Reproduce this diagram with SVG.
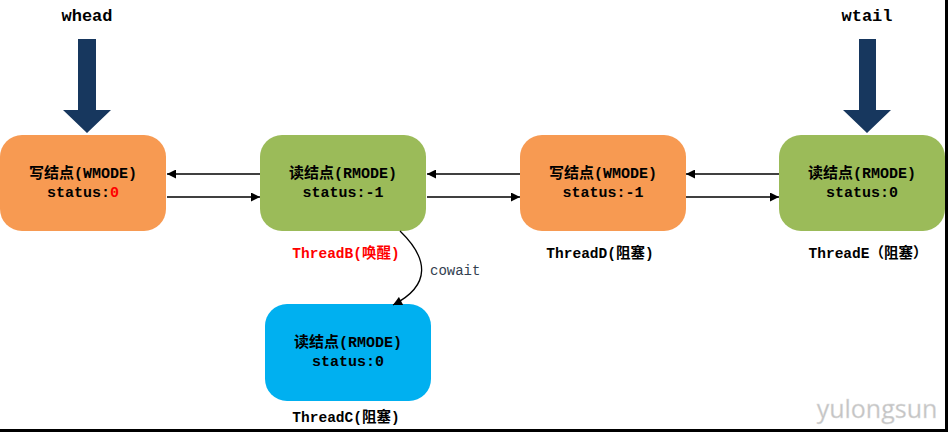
<svg xmlns="http://www.w3.org/2000/svg" width="948" height="432" viewBox="0 0 948 432">
<style>
.t{font-family:"Liberation Mono","Noto Sans CJK SC",monospace;font-weight:bold;font-size:15px;fill:#000;text-anchor:middle}
.l{font-size:14.5px}
.o{fill:#F79A52}
.g{fill:#9BBB59}
.b{fill:#00B0F0}
.c{stroke:#000;stroke-width:1.3;fill:none}
.big{fill:#17375E}
</style>
<defs>
<marker id="ah" viewBox="0 0 10 10" refX="10" refY="5" markerWidth="10" markerHeight="9" markerUnits="userSpaceOnUse" orient="auto">
<path d="M0,0 L10,5 L0,10 z" fill="#000"/>
</marker>
</defs>
<rect width="948" height="432" fill="#fff"/>
<g id="whead">
<text class="t" x="87" y="21" style="font-size:17px">whead</text>
<polygon class="big" points="78,39 96,39 96,110 111,110 87,133 63,110 78,110"/>
</g>
<g id="wtail">
<text class="t" x="867" y="21" style="font-size:17px">wtail</text>
<polygon class="big" points="859,39 876,39 876,110 891,110 867,133 843,110 859,110"/>
</g>
<g id="node1">
<rect class="o" x="0" y="135" width="166" height="96" rx="22"/>
<text class="t" x="83" y="178">写结点(WMODE)</text>
<text class="t" x="83" y="197">status:<tspan fill="#FF0000">0</tspan></text>
</g>
<g id="node2">
<rect class="g" x="260" y="135" width="166" height="96" rx="22"/>
<text class="t" x="343" y="178">读结点(RMODE)</text>
<text class="t" x="343" y="197">status:-1</text>
<text class="t l" x="346" y="258" style="fill:#FF0000">ThreadB(唤醒)</text>
</g>
<g id="node3">
<rect class="o" x="520" y="135" width="166" height="96" rx="22"/>
<text class="t" x="603" y="178">写结点(WMODE)</text>
<text class="t" x="603" y="197">status:-1</text>
<text class="t l" x="600" y="258">ThreadD(阻塞)</text>
</g>
<g id="node4">
<rect class="g" x="779" y="135" width="166" height="96" rx="22"/>
<text class="t" x="862" y="178">读结点(RMODE)</text>
<text class="t" x="862" y="197">status:0</text>
<text class="t l" x="868" y="258">ThreadE（阻塞）</text>
</g>
<g id="node5">
<rect class="b" x="265" y="304" width="166" height="97" rx="22"/>
<text class="t" x="348" y="347">读结点(RMODE)</text>
<text class="t" x="348" y="366">status:0</text>
<text class="t l" x="346" y="422">ThreadC(阻塞)</text>
</g>
<g id="connectors">
<line class="c" x1="260" y1="174" x2="167" y2="174" marker-end="url(#ah)"/>
<line class="c" x1="167" y1="197" x2="260" y2="197" marker-end="url(#ah)"/>
<line class="c" x1="520" y1="174" x2="427" y2="174" marker-end="url(#ah)"/>
<line class="c" x1="427" y1="197" x2="520" y2="197" marker-end="url(#ah)"/>
<line class="c" x1="779" y1="174" x2="686" y2="174" marker-end="url(#ah)"/>
<line class="c" x1="686" y1="197" x2="779" y2="197" marker-end="url(#ah)"/>
<path class="c" d="M400,231 C428,258 432,285 393,305" marker-end="url(#ah)"/>
<text x="430" y="275" font-family="Liberation Mono, monospace" font-size="14" fill="#333F50">cowait</text>
</g>
<text x="877" y="418" font-family="Open Sans, sans-serif" font-size="25" fill="#c4c4c4" text-anchor="middle" stroke="#e0e0e0" stroke-width="0.3">yulongsun</text>
<rect x="945" y="0" width="3" height="432" fill="#000"/>
<rect x="0" y="429" width="948" height="3" fill="#000"/>
</svg>
